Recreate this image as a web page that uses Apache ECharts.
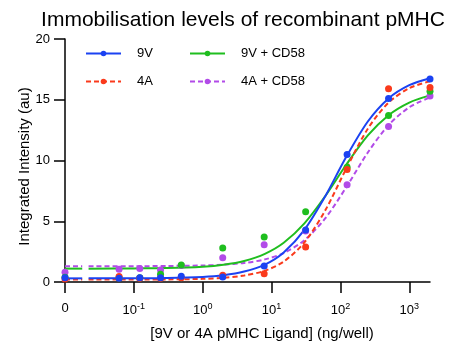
<!DOCTYPE html>
<html><head><meta charset="utf-8">
<script src="https://cdn.jsdelivr.net/npm/echarts@6/dist/echarts.min.js"></script>
<style>html,body{margin:0;padding:0;background:#fff}#c{width:452px;height:343px}</style>
</head><body><div id="c"></div><script>
// ---- data ----
const doses = [0, 0.061, 0.122, 0.244, 0.488, 1.953, 7.8125, 31.25, 125, 500, 2000];
const pts9V      = [0.35, 0.30, 0.35, 0.35, 0.47, 0.41, 1.32, 4.28, 10.5, 15.1, 16.7];
const pts4A      = [0.25, 0.45, 0.30, 0.30, 0.35, 0.55, 0.68, 2.88, 9.25, 15.9, 16.0];
const pts9VCD58  = [0.40, 0.35, 0.35, 0.63, 1.40, 2.80, 3.70, 5.79, 9.45, 13.7, 15.7];
const pts4ACD58  = [0.80, 1.05, 1.12, 0.99, 1.35, 2.00, 3.07, 4.20, 8.00, 12.8, 15.3];

const fitDoses   = [0.022, 0.1, 0.3, 1, 2, 4, 8, 15, 30, 60, 120, 250, 500, 1000, 2000];
const fit9V      = [0.30, 0.31, 0.33, 0.42, 0.56, 0.86, 1.43, 2.43, 4.29, 7.04, 10.24, 13.21, 15.11, 16.2, 16.77];
const fit4A      = [0.20, 0.20, 0.21, 0.26, 0.34, 0.53, 0.93, 1.68, 3.26, 5.88, 9.27, 12.62, 14.76, 15.95, 16.52];
const fit9VCD58  = [1.10, 1.12, 1.15, 1.26, 1.42, 1.73, 2.32, 3.23, 4.83, 7.06, 9.61, 12.06, 13.73, 14.77, 15.36];
const fit4ACD58  = [1.30, 1.30, 1.32, 1.36, 1.43, 1.57, 1.86, 2.38, 3.44, 5.23, 7.75, 10.66, 12.91, 14.38, 15.2];

const xTickLabels = ['0', '10-1', '100', '101', '102', '103'];
const yTicks = [0, 5, 10, 15, 20];

// ---- axis mapping config ----
const ZERO_POS = -2;        // where dose "0" sits on the log10 axis
const ZERO_SEG_END = -1.75; // end of the short fit segment drawn at "0"
const xTickPos = [-2, -1, 0, 1, 2, 3];
const lx = d => d === 0 ? ZERO_POS : Math.log10(d);

const groups = [
  {name: '4A + CD58', color: '#B24BE8', dash: true,  pts: pts4ACD58, fit: fit4ACD58},
  {name: '9V + CD58', color: '#1FBE1F', dash: false, pts: pts9VCD58, fit: fit9VCD58},
  {name: '4A',        color: '#FA3A1C', dash: true,  pts: pts4A,     fit: fit4A},
  {name: '9V',        color: '#1B42F2', dash: false, pts: pts9V,     fit: fit9V}
];

const series = [];
groups.forEach(g => {
  const ls = {color: g.color, width: 2, type: g.dash ? [5, 3] : 'solid'};
  series.push({
    name: g.name, type: 'line', data: fitDoses.map((d, i) => [lx(d), g.fit[i]]),
    smooth: 0.3, showSymbol: false, symbol: 'circle', symbolSize: 6,
    itemStyle: {color: g.color}, lineStyle: ls, z: 2, silent: true
  });
  series.push({
    name: g.name, type: 'line', data: [[ZERO_POS, g.fit[0]], [ZERO_SEG_END, g.fit[0]]],
    showSymbol: false, symbol: 'circle', symbolSize: 6,
    itemStyle: {color: g.color}, lineStyle: ls, z: 2, silent: true
  });
  series.push({
    name: g.name, type: 'scatter', data: doses.map((d, i) => [lx(d), g.pts[i]]),
    symbol: 'circle', symbolSize: 7, itemStyle: {color: g.color, opacity: 1}, z: 3
  });
});

const legendCommon = {
  orient: 'vertical', top: 42, itemWidth: 35, itemHeight: 7, itemGap: 15,
  textStyle: {fontSize: 13, color: '#000', fontFamily: 'Liberation Sans', padding: [0, 0, 0, 11]},
  selectedMode: false
};

const chart = echarts.init(document.getElementById('c'));
chart.setOption({
  animation: false,
  backgroundColor: '#fff',
  textStyle: {fontFamily: 'Liberation Sans'},
  title: {
    text: 'Immobilisation levels of recombinant pMHC', left: 238, top: 5, textAlign: 'center',
    textStyle: {fontSize: 21, fontWeight: 'normal', color: '#000', fontFamily: 'Liberation Sans'}
  },
  legend: [
    Object.assign({left: 80, data: ['9V', '4A']}, legendCommon),
    Object.assign({left: 184, data: ['9V + CD58', '4A + CD58']}, legendCommon)
  ],
  grid: {left: 65, right: 22, top: 39, bottom: 61, containLabel: false, outerBoundsMode: 'none'},
  xAxis: {
    type: 'value', min: ZERO_POS, max: Math.log10(2000),
    name: '[9V or 4A pMHC Ligand] (ng/well)', nameLocation: 'middle', nameGap: 44,
    nameTextStyle: {fontSize: 15, color: '#000', padding: [0, 0, 0, 29]},
    axisLine: {onZero: false, lineStyle: {color: '#000', width: 1.5}},
    axisTick: {length: 11, lineStyle: {color: '#000', width: 1.5}, customValues: xTickPos},
    axisLabel: {
      customValues: xTickPos, margin: 20, color: '#000', fontSize: 13,
      formatter: v => {
        const i = xTickPos.indexOf(Math.round(v));
        const t = xTickLabels[i];
        if (t === '0') return '{b|0}';
        return '{b|10}{s|' + t.slice(2) + '}';
      },
      rich: {
        b: {fontSize: 13, color: '#000', fontFamily: 'Liberation Sans'},
        s: {fontSize: 9, color: '#000', fontFamily: 'Liberation Sans', padding: [0, 0, 7, 0]}
      }
    },
    splitLine: {show: false}
  },
  yAxis: {
    type: 'value', min: 0, max: 20, interval: 5,
    name: 'Integrated Intensity (au)', nameLocation: 'middle', nameGap: 33, nameMoveOverlap: false,
    nameTextStyle: {fontSize: 15, color: '#000', padding: [0, 12, 0, 0]},
    axisLine: {show: true, onZero: false, lineStyle: {color: '#000', width: 1.5}},
    axisTick: {show: true, length: 11, lineStyle: {color: '#000', width: 1.5}},
    axisLabel: {color: '#000', fontSize: 13, margin: 15, formatter: v => yTicks.includes(v) ? String(v) : ''},
    splitLine: {show: false}
  },
  series: series
});
</script></body></html>
